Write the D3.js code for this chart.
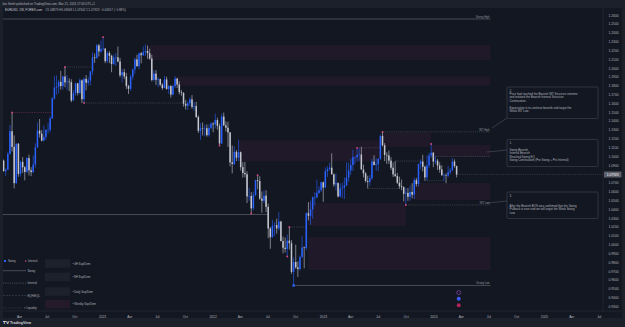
<!DOCTYPE html>
<html><head><meta charset="utf-8">
<script src="https://cdn.jsdelivr.net/npm/d3@7"></script>
<style>html,body{margin:0;padding:0;background:#1c202b;overflow:hidden}svg{display:block;font-family:"Liberation Sans",Arial,sans-serif}</style>
</head><body><svg id="c" width="625" height="327"></svg>
<script>
// ---------------- data ----------------
const firstWeek = "2020-02-10";
const firstOpen = 1.0950;
const highs = [1.0962,1.0865,1.1053,1.1355,1.1495,1.1236,1.1147,1.1148,1.0952,1.0990,
 1.0889,1.0990,1.1019,1.0876,1.1008,1.1147,1.1384,1.1422,1.1296,1.1349,
 1.1303,1.1375,1.1452,1.1669,1.1909,1.1916,1.1866,1.1966,1.1911,1.2011,
 1.1917,1.1882,1.1872,1.1753,1.1831,1.1831,1.1881,1.1870,1.1891,1.1920,
 1.1894,1.1965,1.2177,1.2163,1.2273,1.2272,1.2310,1.2349,1.2223,1.2190,
 1.2190,1.2150,1.2150,1.2169,1.2243,1.2114,1.1990,1.1990,1.1945,1.1810,
 1.1927,1.1994,1.2117,1.2150,1.2172,1.2181,1.2245,1.2266,1.2254,1.2218,
 1.2150,1.1975,1.1975,1.1895,1.1880,1.1830,1.1908,1.1900,1.1805,1.1805,
 1.1810,1.1909,1.1885,1.1849,1.1750,1.1725,1.1640,1.1624,1.1669,1.1692,
 1.1616,1.1616,1.1464,1.1374,1.1383,1.1355,1.1360,1.1360,1.1386,1.1385,
 1.1482,1.1436,1.1370,1.1483,1.1495,1.1395,1.1390,1.1275,1.1121,1.1113,
 1.1070,1.1185,1.1054,1.0933,1.0936,1.0830,1.0642,1.0593,1.0600,1.0735,
 1.0786,1.0774,1.0601,1.0613,1.0615,1.0463,1.0198,1.0278,1.0254,1.0293,
 1.0368,1.0268,1.0090,1.0079,1.0113,1.0198,1.0050,0.9854,0.9999,0.9809,
 0.9875,1.0094,0.9977,1.0364,1.0481,1.0497,1.0545,1.0595,1.0736,1.0658,
 1.0713,1.0713,1.0874,1.0887,1.0929,1.1033,1.0805,1.0805,1.0705,1.0691,
 1.0701,1.0760,1.0930,1.0927,1.0973,1.1075,1.1000,1.1095,1.1092,1.1107,
 1.0905,1.0820,1.0779,1.0787,1.0970,1.1012,1.0976,1.0976,1.1245,1.1276,
 1.1149,1.1045,1.1065,1.0988,1.0930,1.0945,1.0810,1.0769,1.0736,1.0659,
 1.0640,1.0640,1.0668,1.0695,1.0756,1.0755,1.0916,1.0965,1.1017,1.0895,
 1.1009,1.1040,1.1139,1.1046,1.0998,1.0970,1.0933,1.0897,1.0806,1.0806,
 1.0888,1.0866,1.0981,1.0964,1.0895];
const lows = [1.0827,1.0778,1.0840,1.1020,1.1054,1.0636,1.0688,1.0768,1.0770,1.0812,
 1.0727,1.0811,1.0782,1.0775,1.0810,1.0870,1.1097,1.1213,1.1168,1.1168,
 1.1185,1.1255,1.1270,1.1426,1.1640,1.1696,1.1712,1.1754,1.1753,1.1781,
 1.1751,1.1737,1.1612,1.1631,1.1685,1.1689,1.1702,1.1602,1.1603,1.1746,
 1.1800,1.1801,1.1923,1.2058,1.2105,1.2130,1.2168,1.2193,1.2054,1.2054,
 1.2055,1.1952,1.2035,1.2023,1.2065,1.1894,1.1836,1.1875,1.1762,1.1704,
 1.1740,1.1868,1.1936,1.2015,1.1985,1.2052,1.2136,1.2133,1.2104,1.2093,
 1.1847,1.1847,1.1807,1.1782,1.1794,1.1752,1.1770,1.1754,1.1706,1.1664,
 1.1690,1.1773,1.1772,1.1700,1.1685,1.1563,1.1529,1.1523,1.1570,1.1535,
 1.1513,1.1433,1.1263,1.1186,1.1235,1.1227,1.1222,1.1222,1.1300,1.1272,
 1.1314,1.1301,1.1121,1.1137,1.1341,1.1280,1.1106,1.0885,1.0806,1.0900,
 1.0945,1.0945,1.0837,1.0757,1.0760,1.0470,1.0493,1.0350,1.0390,1.0547,
 1.0627,1.0507,1.0359,1.0469,1.0366,1.0072,0.9952,1.0080,1.0097,1.0123,
 1.0160,1.0034,0.9899,0.9910,0.9864,0.9944,0.9666,0.9536,0.9725,0.9632,
 0.9705,0.9844,0.9730,0.9935,1.0272,1.0223,1.0290,1.0443,1.0520,1.0573,
 1.0595,1.0483,1.0640,1.0766,1.0835,1.0795,1.0655,1.0613,1.0533,1.0533,
 1.0524,1.0516,1.0660,1.0712,1.0788,1.0832,1.0910,1.0942,1.0942,1.0850,
 1.0760,1.0702,1.0635,1.0666,1.0732,1.0897,1.0835,1.0833,1.0960,1.1110,
 1.0944,1.0913,1.0912,1.0845,1.0765,1.0766,1.0686,1.0631,1.0615,1.0488,
 1.0448,1.0495,1.0497,1.0522,1.0516,1.0655,1.0656,1.0852,1.0828,1.0723,
 1.0724,1.0865,1.0980,1.0877,1.0910,1.0844,1.0813,1.0780,1.0722,1.0695,
 1.0761,1.0795,1.0833,1.0870,1.0760];
const closes = [1.0830,1.0848,1.1026,1.1284,1.1106,1.0695,1.1142,1.0800,1.0936,1.0875,
 1.0822,1.0979,1.0840,1.0820,1.0906,1.1100,1.1290,1.1255,1.1177,1.1219,
 1.1300,1.1300,1.1427,1.1655,1.1778,1.1787,1.1842,1.1795,1.1903,1.1837,
 1.1846,1.1839,1.1632,1.1715,1.1826,1.1717,1.1860,1.1646,1.1876,1.1833,
 1.1857,1.1962,1.2120,1.2112,1.2256,1.2188,1.2216,1.2220,1.2077,1.2169,
 1.2137,1.2045,1.2119,1.2120,1.2073,1.1917,1.1952,1.1904,1.1796,1.1764,
 1.1899,1.1983,1.2097,1.2020,1.2165,1.2145,1.2180,1.2192,1.2168,1.2106,
 1.1864,1.1936,1.1866,1.1873,1.1810,1.1772,1.1870,1.1762,1.1795,1.1698,
 1.1795,1.1880,1.1813,1.1726,1.1718,1.1595,1.1572,1.1600,1.1644,1.1559,
 1.1568,1.1445,1.1289,1.1317,1.1316,1.1317,1.1239,1.1320,1.1370,1.1360,
 1.1410,1.1344,1.1145,1.1450,1.1350,1.1323,1.1270,1.0930,1.0912,1.1050,
 1.0983,1.1046,1.0876,1.0810,1.0796,1.0545,1.0550,1.0410,1.0560,1.0730,
 1.0720,1.0520,1.0495,1.0554,1.0426,1.0182,1.0083,1.0213,1.0220,1.0182,
 1.0260,1.0040,0.9963,0.9950,1.0044,1.0015,0.9690,0.9802,0.9740,0.9722,
 0.9860,0.9966,0.9960,1.0355,1.0325,1.0398,1.0535,1.0535,1.0585,1.0615,
 1.0705,1.0645,1.0830,1.0855,1.0870,1.0795,1.0680,1.0695,1.0545,1.0635,
 1.0645,1.0670,1.0760,1.0840,1.0900,1.0990,1.0990,1.1015,1.1020,1.0850,
 1.0805,1.0720,1.0710,1.0750,1.0940,1.0900,1.0910,1.0970,1.1230,1.1125,
 1.1015,1.1010,1.0950,1.0870,1.0795,1.0775,1.0700,1.0660,1.0650,1.0575,
 1.0585,1.0540,1.0595,1.0565,1.0730,1.0685,1.0910,1.0940,1.0880,1.0760,
 1.0895,1.1010,1.1040,1.0940,1.0950,1.0895,1.0850,1.0785,1.0785,1.0780,
 1.0820,1.0840,1.0940,1.0888,1.07923];

const timeTicks = ["2020-04-01","2020-07-01","2020-10-01","2021-01-01","2021-04-01","2021-07-01","2021-10-01",
 "2022-01-01","2022-04-01","2022-07-01","2022-10-01","2023-01-01","2023-04-01","2023-07-01","2023-10-01",
 "2024-01-01","2024-04-01","2024-07-01","2024-10-01","2025-01-01","2025-04-01","2025-07-01"];
const priceTicks = [1.26,1.25,1.24,1.23,1.22,1.21,1.20,1.19,1.18,1.17,1.16,1.15,1.14,1.13,1.12,1.11,1.10,1.09,
 1.07,1.06,1.05,1.04,1.03,1.02,1.01,1.00,0.99,0.98,0.97,0.96,0.95,0.94,0.93];
const lastPrice = 1.07923;

const headerText = "Joe Smith published on TradingView.com, Mar 21, 2024 17:03 UTC+1";
const symbolText = "EURUSD, 1W, FOREX.com";
const ohlcText = "O1.08879 H1.08948 L1.07602 C1.07923 −0.00957 (−0.88%)";

// supply / demand zones
const zoneFrom = ["2021-05-31","2021-08-30","2022-03-28","2023-07-17","2023-12-25","2023-10-30","2022-11-14","2022-11-14"];
const zoneTo   = ["2024-07-08","2024-07-08","2023-07-10","2023-12-25","2024-07-08","2024-07-08","2023-10-02","2024-07-08"];
const zoneTop  = [1.2260,1.1905,1.1180,1.1266,1.1127,1.0697,1.0470,1.0085];
const zoneBot  = [1.2090,1.1800,1.0940,1.1105,1.0991,1.0504,1.0210,0.9711];

// structure levels
const levelPrice = [1.2555,1.0340,0.9536,1.1276,1.0448,1.1495,1.2011,1.1603,1.1095,1.0635,1.0198,1.0945,1.0723,1.0998];
const levelFrom  = ["2020-02-03","2020-02-03","2022-09-26","2023-07-17","2023-10-02","2020-03-09","2020-08-31","2020-11-02","2023-04-24","2023-05-29","2022-09-12","2023-08-28","2023-12-04","2024-01-08"];
const levelTo    = ["2024-07-08","2022-07-04","2024-07-08","2024-07-08","2024-07-08","2020-07-20","2020-11-30","2021-09-27","2023-07-10","2023-09-11","2022-11-07","2023-11-20","2024-02-05","2024-07-08"];
const levelKind  = ["swing","swing","swing","internal","internal","internalRed","internal","internal","internal","internal","internal","internal","internal","internal"];
const levelLabel = ["Strong High","","Strong Low","INT High","INT Low","","","","","","","","",""];

// swing markers
const markDate  = ["2020-03-09","2020-08-31","2021-01-04","2020-11-02","2022-01-24","2022-05-30","2022-05-09","2022-09-12","2022-09-05","2023-04-24","2023-07-17","2023-10-02","2023-12-25"];
const markPrice = [1.1495,1.2011,1.2349,1.1603,1.1121,1.0786,1.0350,1.0198,0.9864,1.1095,1.1276,1.0448,1.1139];

const notes = [
  ["2.","Price had reached the Bearish INT Structure extreme","and initiated the Bearish Internal Structure","Continuation.","","Expectation is to continue bearish and target the","Weak INT Low."],
  ["1.","","Swing Bearish","Internal Bearish","Reached Swing EQ","Swing Continuation (Pro Swing + Pro Internal)"],
  ["3.","","","After the Bearish BOS was confirmed that the Swing","Pullback is over and we will target the Weak Swing","Low."]
];
const legendLineLabels = ["Swing","Internal","EQH/EQL","× Liquidity"];
const legendBoxLabels = ["4H Sup/Dem","8H Sup/Dem","Daily Sup/Dem","Weekly Sup/Dem"];

// ---------------- drawing ----------------
const svg = d3.select("#c");
const W = 625, H = 327;
const P = {l:3, r:603, t:8, b:311};
const C = {bg:"#131722", frame:"#1c202b", up:"#2962ff", down:"#c3c6ce", txt:"#b2b5be", grid:"#2a2e39", zone:"#3a1f3a", pink:"#e04c7a"};

svg.append("rect").attr("width",W).attr("height",H).attr("fill",C.frame);
svg.append("rect").attr("x",P.l).attr("y",P.t).attr("width",622-P.l).attr("height",318-P.t).attr("fill",C.bg);

const x = d3.scaleUtc().domain([new Date("2020-01-01"), new Date("2025-01-01")]).range([-8.5, 544]);
const y = d3.scaleLinear().domain([0.93, 1.26]).range([306.3, 15]);
const pd = d3.utcParse("%Y-%m-%d");
const startDate = pd(firstWeek);
const bars = closes.map((c,i)=>{
  const o = i===0 ? firstOpen : closes[i-1];
  return {d: d3.utcWeek.offset(startDate, i), o, h: Math.max(highs[i],o,c), l: Math.min(lows[i],o,c), c};
});

svg.append("clipPath").attr("id","clip").append("rect").attr("x",P.l).attr("y",P.t).attr("width",P.r-P.l).attr("height",P.b-P.t);
const g = svg.append("g").attr("clip-path","url(#clip)");

// zones
g.selectAll("rect.zone").data(zoneFrom).join("rect").attr("class","zone")
  .attr("x",(d,i)=>x(pd(d))).attr("width",(d,i)=>x(pd(zoneTo[i]))-x(pd(d)))
  .attr("y",(d,i)=>y(zoneTop[i])).attr("height",(d,i)=>y(zoneBot[i])-y(zoneTop[i]))
  .attr("fill",C.zone).attr("fill-opacity",0.3);

// levels
const kindStyle = {swing:{c:"#6b6f7b",w:0.6,dash:null}, internal:{c:"#5d606b",w:0.5,dash:"1.2,1"}, internalRed:{c:"#8a3c56",w:0.5,dash:"1.2,1"}};
levelPrice.forEach((p,i)=>{
  const s = kindStyle[levelKind[i]];
  g.append("line").attr("x1",x(pd(levelFrom[i]))).attr("x2",x(pd(levelTo[i])))
   .attr("y1",y(p)).attr("y2",y(p)).attr("stroke",s.c).attr("stroke-width",s.w)
   .attr("stroke-dasharray",s.dash);
  if(levelLabel[i]) g.append("text").attr("x",x(pd(levelTo[i]))-1).attr("y",y(p)-1)
    .attr("text-anchor","end").attr("font-size",2.6).attr("fill","#9598a1").text(levelLabel[i]);
});

// candles
const bw = 1.5;
const cg = g.append("g");
cg.selectAll("line").data(bars).join("line")
  .attr("x1",d=>x(d.d)).attr("x2",d=>x(d.d)).attr("y1",d=>y(d.h)).attr("y2",d=>y(d.l))
  .attr("stroke",d=>d.c>=d.o?C.up:C.down).attr("stroke-width",0.6);
cg.selectAll("rect").data(bars).join("rect")
  .attr("x",d=>x(d.d)-bw/2).attr("width",bw)
  .attr("y",d=>y(Math.max(d.o,d.c))).attr("height",d=>Math.max(0.5,Math.abs(y(d.o)-y(d.c))))
  .attr("fill",d=>d.c>=d.o?C.up:C.down);

// swing markers
g.selectAll("rect.mk").data(markDate).join("rect").attr("class","mk")
  .attr("x",(d)=>x(pd(d))-0.8).attr("y",(d,i)=>y(markPrice[i])-0.8).attr("width",1.6).attr("height",1.6)
  .attr("fill",C.pink);
// strong low marker
g.append("rect").attr("x",x(pd("2022-09-26"))-1.2).attr("y",y(0.9536)-1.2).attr("width",2.4).attr("height",2.4).attr("fill",C.up);

// last price line
const lastBar = bars[bars.length-1];
g.append("line").attr("x1",x(lastBar.d)).attr("x2",P.r).attr("y1",y(lastPrice)).attr("y2",y(lastPrice))
  .attr("stroke","#787b86").attr("stroke-width",0.5).attr("stroke-dasharray","0.6,1.2");

// separators
svg.append("line").attr("x1",P.l).attr("x2",622).attr("y1",P.b).attr("y2",P.b).attr("stroke",C.grid).attr("stroke-width",0.6);
svg.append("line").attr("x1",P.r).attr("x2",P.r).attr("y1",P.t).attr("y2",P.b).attr("stroke",C.grid).attr("stroke-width",0.6);

// time axis
const fmt = d => d.getUTCMonth()===0 ? d3.utcFormat("%Y")(d) : d3.utcFormat("%b")(d);
const xa = svg.append("g").attr("transform",`translate(0,${P.b})`)
  .call(d3.axisBottom(x).tickValues(timeTicks.map(pd)).tickFormat(fmt).tickSize(0).tickPadding(4.3));
xa.select(".domain").remove();
xa.selectAll("text").attr("fill",C.txt).attr("font-size",3.3).attr("font-family","Liberation Sans, Arial, sans-serif");

// price axis
const ya = svg.append("g").attr("transform",`translate(${P.r},0)`)
  .call(d3.axisRight(y).tickValues(priceTicks).tickFormat(d3.format(".4f")).tickSize(0).tickPadding(5.5));
ya.select(".domain").remove();
ya.selectAll("text").attr("fill",C.txt).attr("font-size",3.3).attr("font-family","Liberation Sans, Arial, sans-serif");
svg.append("rect").attr("x",P.r+1).attr("y",y(lastPrice)-3).attr("width",17.5).attr("height",6).attr("rx",0.6).attr("fill","#5d606b");
svg.append("text").attr("x",P.r+9.75).attr("y",y(lastPrice)+1.2).attr("text-anchor","middle").attr("font-size",3.3).attr("fill","#ffffff").text(d3.format(".5f")(lastPrice));

// header
svg.append("text").attr("x",2).attr("y",5).attr("font-size",3).attr("fill",C.txt).text(headerText);
const st = svg.append("text").attr("x",5).attr("y",11.4).attr("font-size",3).attr("fill","#d1d4dc");
st.append("tspan").text(symbolText);
st.append("tspan").attr("dx",3).attr("fill",C.txt).text(ohlcText);

// bottom bar
svg.append("rect").attr("x",0).attr("y",318).attr("width",W).attr("height",9).attr("fill",C.frame);
svg.append("text").attr("x",3).attr("y",324).attr("font-size",3.6).attr("font-weight","bold").attr("fill","#d1d4dc").text("𝗧𝗩 TradingView");

// notes
const noteBoxes = [{x:507,y:87,w:91,h:31.5,ax:492,ay:128},{x:507,y:139.5,w:91,h:27,ax:487,ay:152},{x:507,y:192,w:91,h:26.5,ax:487,ay:203}];
notes.forEach((lines,i)=>{
  const b = noteBoxes[i];
  svg.append("line").attr("x1",b.ax).attr("y1",b.ay).attr("x2",b.x).attr("y2",b.ay+(i===0?-10:-2)).attr("stroke","#5d606b").attr("stroke-width",0.5);
  svg.append("rect").attr("x",b.x).attr("y",b.y).attr("width",b.w).attr("height",b.h).attr("rx",1)
    .attr("fill",C.bg).attr("stroke","#434651").attr("stroke-width",0.6);
  lines.forEach((t,j)=>{
    if(t) svg.append("text").attr("x",b.x+2.5).attr("y",b.y+4.6+j*3.4).attr("font-size",2.9).attr("fill",C.txt).text(t);
  });
});

// legend
const lg = svg.append("g");
lg.append("rect").attr("x",4).attr("y",260).attr("width",2).attr("height",2).attr("fill",C.up);
lg.append("text").attr("x",8).attr("y",262.2).attr("font-size",2.8).attr("fill",C.txt).text("Swing");
lg.append("rect").attr("x",25).attr("y",260.4).attr("width",1.3).attr("height",1.3).attr("fill",C.pink);
lg.append("text").attr("x",28).attr("y",262.2).attr("font-size",2.8).attr("fill",C.txt).text("Internal");
const lineDash = [null,"1.2,1","0.5,1","0.5,1.2"];
legendLineLabels.forEach((t,i)=>{
  const yy = 270.7 + i*12.4;
  lg.append("line").attr("x1",3).attr("x2",i===3?22:26).attr("y1",yy).attr("y2",yy).attr("stroke","#6b6f7b").attr("stroke-width",0.6).attr("stroke-dasharray",lineDash[i]);
  lg.append("text").attr("x",i===3?24:27.5).attr("y",yy+1).attr("font-size",2.8).attr("fill",C.txt).text(t);
});
const boxFill = ["#1d212b","#1d212b","#1d212b","#241a29"];
const boxY = [259.3,272.7,287.3,300];
legendBoxLabels.forEach((t,i)=>{
  lg.append("rect").attr("x",45).attr("y",boxY[i]).attr("width",25).attr("height",8.5).attr("fill",boxFill[i]);
  lg.append("text").attr("x",72.5).attr("y",boxY[i]+5.2).attr("font-size",2.8).attr("fill",C.txt).text("• "+t);
});

// event icons
const ex = x(pd("2024-03-25"));
svg.append("circle").attr("cx",ex).attr("cy",292.5).attr("r",2).attr("fill","none").attr("stroke","#9c4dcc").attr("stroke-width",0.6);
svg.append("circle").attr("cx",ex).attr("cy",298.8).attr("r",2).attr("fill","#3d5afe");
svg.append("circle").attr("cx",ex).attr("cy",305.2).attr("r",2).attr("fill","#b0245a");
</script></body></html>
